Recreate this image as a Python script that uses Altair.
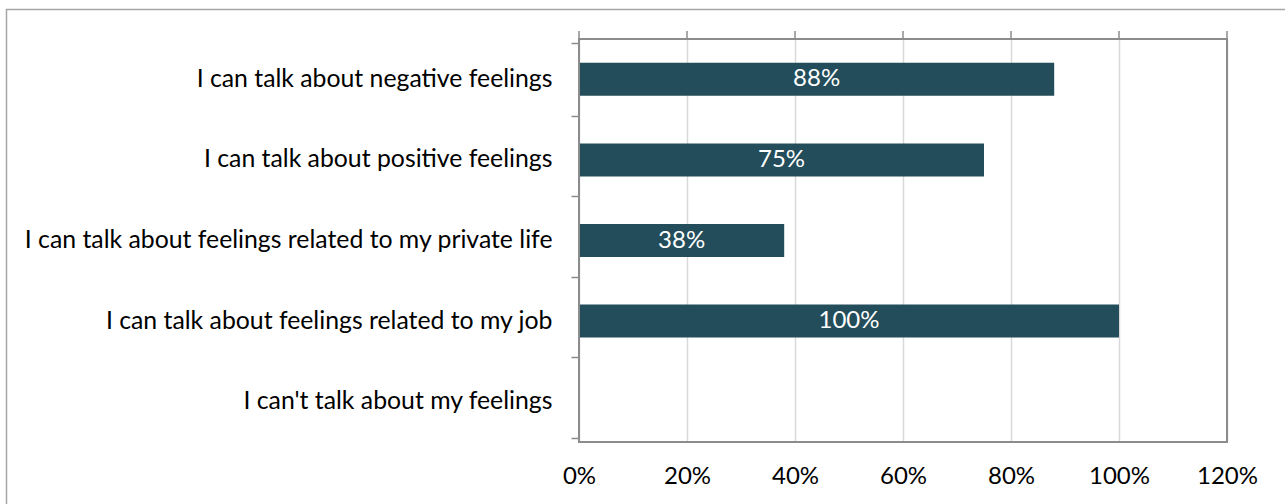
import altair as alt
import pandas as pd

categories = [
    "I can talk about negative feelings",
    "I can talk about positive feelings",
    "I can talk about feelings related to my private life",
    "I can talk about feelings related to my job",
    "I can't talk about my feelings",
]
values = [0.88, 0.75, 0.38, 1.00, 0.0]
x_ticks = [0, 0.2, 0.4, 0.6, 0.8, 1.0, 1.2]

FONT = "Lato"
FS = 24
FS_Y = 24.8
BAR = "#234D5A"
AXIS_GRAY = "#8C8C8C"

df = pd.DataFrame({"cat": categories, "val": values})
ticks_df = pd.DataFrame({"t": x_ticks})

x_enc = alt.X(
    "val:Q",
    scale=alt.Scale(domain=[0, 1.2], nice=False, zero=True),
    axis=alt.Axis(
        values=x_ticks, format=".0%", orient="bottom", title=None,
        ticks=False, domain=False, grid=True, gridColor="#D9D9D9", gridWidth=1.5,
        labelFont=FONT, labelFontSize=FS, labelColor="#000000", labelPadding=22,
        labelFlush=False, labelOverlap=False,
    ),
)
y_enc = alt.Y(
    "cat:N", sort=categories, title=None,
    axis=alt.Axis(
        domain=False, ticks=True, tickBand="extent", tickSize=8, tickColor=AXIS_GRAY,
        tickWidth=1.5, labelFont=FONT, labelFontSize=FS_Y, labelColor="#000000",
        labelPadding=19, labelLimit=700,
    ),
)

bars = alt.Chart(df).mark_bar(size=33, color=BAR).encode(x=x_enc, y=y_enc)

labels = alt.Chart(df).transform_filter("datum.val > 0").transform_calculate(
    mid="datum.val / 2"
).mark_text(color="white", font=FONT, fontSize=FS, align="center", baseline="middle").encode(
    x=alt.X("mid:Q"),
    y=alt.Y("cat:N", sort=categories),
    text=alt.Text("val:Q", format=".0%"),
)

top_ticks = alt.Chart(ticks_df).mark_rule(color=AXIS_GRAY, strokeWidth=1.5).encode(
    x=alt.X("t:Q"), y=alt.value(-8), y2=alt.value(0)
)

one = pd.DataFrame({"a": [0]})
frame = alt.Chart(one).mark_rect(
    fill=None, stroke="#A6A6A6", strokeWidth=1.5
).encode(
    x=alt.value(-572.5), x2=alt.value(800), y=alt.value(-29.5), y2=alt.value(520)
)

plot_border = alt.Chart(one).mark_rect(
    fill=None, stroke=AXIS_GRAY, strokeWidth=2
).encode(
    x=alt.value(0), x2=alt.value(648), y=alt.value(0), y2=alt.value(403)
)

chart = alt.layer(frame, bars, labels, top_ticks, plot_border).properties(
    width=648, height=403,
    autosize=alt.AutoSizeParams(type="none"),
    padding={"left": 579, "top": 39, "right": 58, "bottom": 62},
).configure_view(stroke=None).configure(background="white")

chart.save("out.html", embed_options={"renderer": "svg", "actions": False})
